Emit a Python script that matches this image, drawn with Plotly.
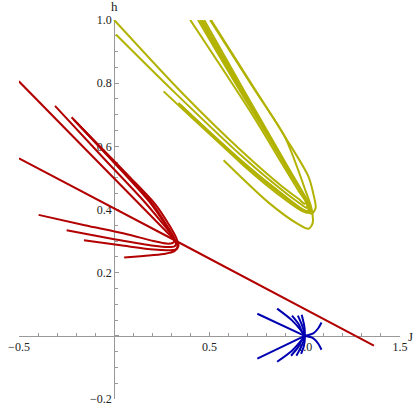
import plotly.graph_objects as go

# flow trajectories in the (J, h) plane
red_j = [
    [-0.501, 0.308],
    [-0.500, 0.310, 1.363],
    [-0.311, -0.052, 0.155, 0.259, 0.290, 0.311, 0.316, 0.306, 0.275, 0.207, 0.052, -0.155, -0.397],
    [-0.224, 0.000, 0.181, 0.269, 0.298, 0.316, 0.324, 0.316, 0.285, 0.207, 0.000, -0.250],
    [-0.212, 0.010, 0.197, 0.280, 0.306, 0.324, 0.332, 0.324, 0.290, 0.207, 0.052, -0.159],
    [-0.197, 0.078, 0.218, 0.290, 0.326, 0.337, 0.316, 0.259, 0.155, 0.052],
]
red_h = [
    [0.806, 0.309],
    [0.562, 0.305, -0.031],
    [0.728, 0.560, 0.427, 0.352, 0.328, 0.309, 0.300, 0.294, 0.292, 0.300, 0.324, 0.350, 0.383],
    [0.692, 0.548, 0.427, 0.352, 0.324, 0.303, 0.291, 0.283, 0.281, 0.285, 0.306, 0.334],
    [0.684, 0.542, 0.421, 0.346, 0.320, 0.297, 0.284, 0.274, 0.271, 0.273, 0.285, 0.303],
    [0.675, 0.505, 0.415, 0.349, 0.309, 0.284, 0.268, 0.259, 0.253, 0.248],
]

yellow_j = [
    [0.000, 0.363, 0.674, 0.881, 0.969, 1.000, 1.005, 0.969, 0.881, 0.725, 0.399],
    [0.009, 0.311, 0.674, 0.907, 0.984, 1.010, 1.010, 0.907, 0.674, 0.440],
    [0.337, 0.674, 0.907, 0.984, 1.016, 1.016, 0.907, 0.674, 0.451],
    [0.347, 0.674, 0.907, 0.984, 1.021, 1.021, 0.912, 0.679, 0.461],
    [0.358, 0.674, 0.907, 0.984, 1.026, 1.026, 0.917, 0.684, 0.472],
    [0.259, 0.622, 0.881, 0.984, 1.036, 1.057, 1.045, 1.019, 0.898, 0.725, 0.508],
    [0.574, 0.812, 0.959, 1.019, 1.041, 1.036, 1.005, 0.896, 0.725, 0.503],
]
yellow_h = [
    [1.000, 0.765, 0.582, 0.473, 0.433, 0.418, 0.424, 0.458, 0.545, 0.700, 1.000],
    [0.954, 0.774, 0.567, 0.449, 0.415, 0.405, 0.424, 0.535, 0.762, 1.000],
    [0.737, 0.551, 0.436, 0.402, 0.396, 0.418, 0.529, 0.768, 1.000],
    [0.731, 0.548, 0.433, 0.399, 0.393, 0.415, 0.529, 0.771, 1.000],
    [0.725, 0.542, 0.427, 0.396, 0.390, 0.411, 0.529, 0.774, 1.000],
    [0.774, 0.573, 0.449, 0.402, 0.387, 0.405, 0.450, 0.505, 0.629, 0.793, 1.000],
    [0.556, 0.421, 0.356, 0.339, 0.356, 0.402, 0.458, 0.629, 0.790, 1.000],
]

blue_j = [
    [0.751, 1.000],
    [0.855, 0.933, 0.979, 1.000],
    [0.933, 0.969, 0.984, 1.000],
    [0.964, 0.984, 0.995, 1.000],
    [0.984, 0.995, 1.000, 1.000],
    [1.000, 1.045, 1.071, 1.088],
    [0.751, 1.000],
    [0.855, 0.933, 0.979, 1.000],
    [0.928, 0.966, 0.984, 1.000],
    [0.956, 0.981, 0.995, 1.000],
    [0.981, 0.995, 1.000, 1.000],
    [1.000, 1.045, 1.071, 1.088],
]
blue_h = [
    [0.070, 0.000],
    [0.086, 0.049, 0.018, 0.000],
    [0.064, 0.036, 0.015, 0.000],
    [0.064, 0.036, 0.015, 0.000],
    [0.067, 0.039, 0.018, 0.000],
    [0.000, 0.008, 0.024, 0.042],
    [-0.072, 0.000],
    [-0.082, -0.047, -0.017, 0.000],
    [-0.063, -0.035, -0.014, 0.000],
    [-0.063, -0.035, -0.014, 0.000],
    [-0.057, -0.033, -0.014, 0.000],
    [0.000, -0.008, -0.025, -0.044],
]

x_ticks = [-0.5, 0, 0.5, 1.0, 1.5]
x_labels = ["\u22120.5", "", "0.5", "1.0", "1.5"]
y_ticks = [-0.2, 0, 0.2, 0.4, 0.6, 0.8, 1.0]
y_labels = ["\u22120.2", "", "0.2", "0.4", "0.6", "0.8", "1.0"]

fig = go.Figure()

for js, hs, col in [(red_j, red_h, "rgb(178,0,0)"),
                    (yellow_j, yellow_h, "rgb(178,178,0)"),
                    (blue_j, blue_h, "rgb(0,0,178)")]:
    for j, h in zip(js, hs):
        fig.add_trace(go.Scatter(
            x=j, y=h, mode="lines",
            line=dict(color=col, width=2, shape="spline", smoothing=0.8),
            showlegend=False, hoverinfo="skip",
        ))

axis_font = dict(family="Liberation Serif, Times New Roman, serif", size=12, color="#222")

fig.update_layout(
    width=416,
    height=414,
    margin=dict(l=13, r=14, t=20, b=8),
    paper_bgcolor="white",
    plot_bgcolor="white",
    showlegend=False,
    xaxis=dict(
        range=[-0.5, 1.5], anchor="free", position=0.2 / 1.2,
        showgrid=False, zeroline=False, showline=True,
        linecolor="#999", linewidth=1,
        tickmode="array", tickvals=x_ticks, ticktext=x_labels,
        ticks="inside", ticklen=4, tickcolor="#999",
        minor=dict(tickmode="linear", tick0=0, dtick=0.1, ticks="inside",
                   ticklen=2.5, tickcolor="#999"),
        tickfont=axis_font, layer="below traces",
    ),
    yaxis=dict(
        range=[-0.2, 1.0], anchor="free", position=0.25,
        showgrid=False, zeroline=False, showline=True,
        linecolor="#999", linewidth=1,
        tickmode="array", tickvals=y_ticks, ticktext=y_labels,
        ticks="inside", ticklen=4, tickcolor="#999",
        minor=dict(tickmode="linear", tick0=0, dtick=0.05, ticks="inside",
                   ticklen=2.5, tickcolor="#999"),
        tickfont=axis_font, layer="below traces",
    ),
)

fig.add_annotation(xref="paper", yref="paper", x=1.027, y=0.2 / 1.2, yshift=-1,
                   text="J", showarrow=False, xanchor="center", yanchor="middle",
                   font=dict(family="Liberation Serif, serif", size=13, color="#222"))
fig.add_annotation(xref="paper", yref="paper", x=0.25, y=1.0, yshift=14,
                   text="h", showarrow=False, xanchor="center", yanchor="middle",
                   font=dict(family="Liberation Serif, serif", size=13, color="#222"))

# drop the browser's default page margin so the figure sits at the top-left corner
fig.write_html("out.html", config={"displayModeBar": False},
               post_script="document.body.style.margin='0';")
